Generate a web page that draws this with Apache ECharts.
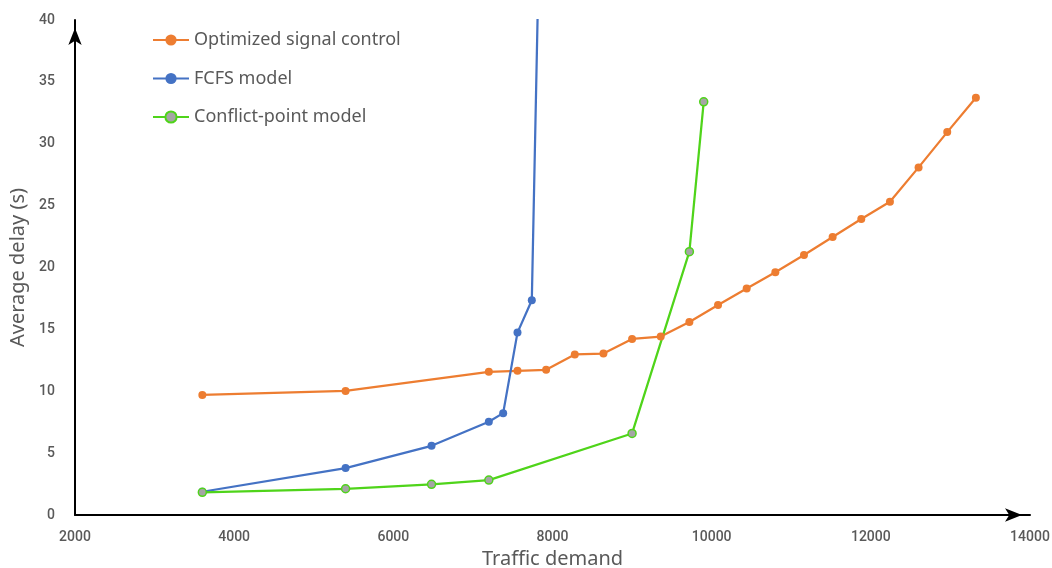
<!DOCTYPE html>
<html>
<head>
<meta charset="utf-8">
<script src="https://cdn.jsdelivr.net/npm/echarts@6/dist/echarts.min.js"></script>
<style>html,body{margin:0;padding:0;background:#fff;}#c{width:1052px;height:568px;}</style>
</head>
<body>
<div id="c"></div>
<script>
const seriesNames = ['Optimized signal control', 'FCFS model', 'Conflict-point model'];
const optX = [3600, 5400, 7200, 7560, 7920, 8280, 8640, 9000, 9360, 9720, 10080, 10440, 10800, 11160, 11520, 11880, 12240, 12600, 12960, 13320];
const optY = [9.7, 10.03, 11.57, 11.65, 11.73, 12.97, 13.05, 14.23, 14.42, 15.6, 16.97, 18.3, 19.61, 21.01, 22.46, 23.92, 25.32, 28.09, 30.94, 33.71];
const fcfsX = [3600, 5400, 6480, 7200, 7380, 7560, 7740, 7920];
const fcfsY = [1.88, 3.79, 5.59, 7.53, 8.23, 14.74, 17.35, 74];
const cpX = [3600, 5400, 6480, 7200, 9000, 9720, 9900];
const cpY = [1.83, 2.12, 2.48, 2.82, 6.59, 21.28, 33.39];
const xTicks = [2000, 4000, 6000, 8000, 10000, 12000, 14000];
const yTicks = [0, 5, 10, 15, 20, 25, 30, 35, 40];

function pairs(xs, ys) { return xs.map((x, i) => [x, ys[i]]); }

const chart = echarts.init(document.getElementById('c'));
const axisLine = {
  show: true,
  symbol: ['none', 'arrow'],
  symbolSize: [10, 17],
  symbolOffset: [0, -8],
  lineStyle: { color: '#000', width: 2 }
};
const labelStyle = { fontFamily: 'Roboto', fontSize: 14, color: '#595959', fontWeight: 500, formatter: v => String(v) };
chart.setOption({
  animation: false,
  backgroundColor: '#fff',
  grid: { left: 75, right: 22, top: 20, bottom: 53, outerBoundsMode: 'none', containLabel: false },
  legend: {
    orient: 'vertical',
    left: 152,
    top: 30,
    padding: 0,
    itemWidth: 36,
    itemHeight: 14,
    itemGap: 18.5,
    textStyle: { fontFamily: 'Noto Sans', fontSize: 18, color: '#595959', lineHeight: 20 },
    data: seriesNames
  },
  xAxis: {
    type: 'value',
    min: xTicks[0],
    max: xTicks[xTicks.length - 1],
    interval: 2000,
    name: 'Traffic demand',
    nameLocation: 'middle',
    nameGap: 30,
    nameTextStyle: { fontFamily: 'Noto Sans', fontSize: 20, color: '#595959' },
    axisLine: axisLine,
    axisTick: { show: false },
    splitLine: { show: false },
    axisLabel: Object.assign({ margin: 15 }, labelStyle)
  },
  yAxis: {
    type: 'value',
    min: yTicks[0],
    max: yTicks[yTicks.length - 1],
    interval: 5,
    name: 'Average delay (s)',
    nameLocation: 'middle',
    nameGap: 46,
    nameTextStyle: { fontFamily: 'Noto Sans', fontSize: 20, color: '#595959' },
    axisLine: axisLine,
    axisTick: { show: false },
    splitLine: { show: false },
    axisLabel: Object.assign({ margin: 20 }, labelStyle)
  },
  series: [
    {
      name: seriesNames[0], type: 'line', data: pairs(optX, optY),
      symbol: 'circle', symbolSize: 8, clip: true,
      lineStyle: { color: '#ED7D31', width: 2.25 },
      itemStyle: { color: '#ED7D31', borderColor: '#ED7D31', borderWidth: 0 }
    },
    {
      name: seriesNames[1], type: 'line', data: pairs(fcfsX, fcfsY),
      symbol: 'circle', symbolSize: 8, clip: true,
      showAllSymbol: true,
      lineStyle: { color: '#4472C4', width: 2.25 },
      itemStyle: { color: '#4472C4', borderColor: '#4472C4', borderWidth: 0 }
    },
    {
      name: seriesNames[2], type: 'line', data: pairs(cpX, cpY),
      symbol: 'circle', symbolSize: 8, clip: true,
      lineStyle: { color: '#4FD41A', width: 2.25 },
      itemStyle: { color: '#A5A5A5', borderColor: '#4FD41A', borderWidth: 1.5 }
    }
  ]
});
</script>
</body>
</html>
